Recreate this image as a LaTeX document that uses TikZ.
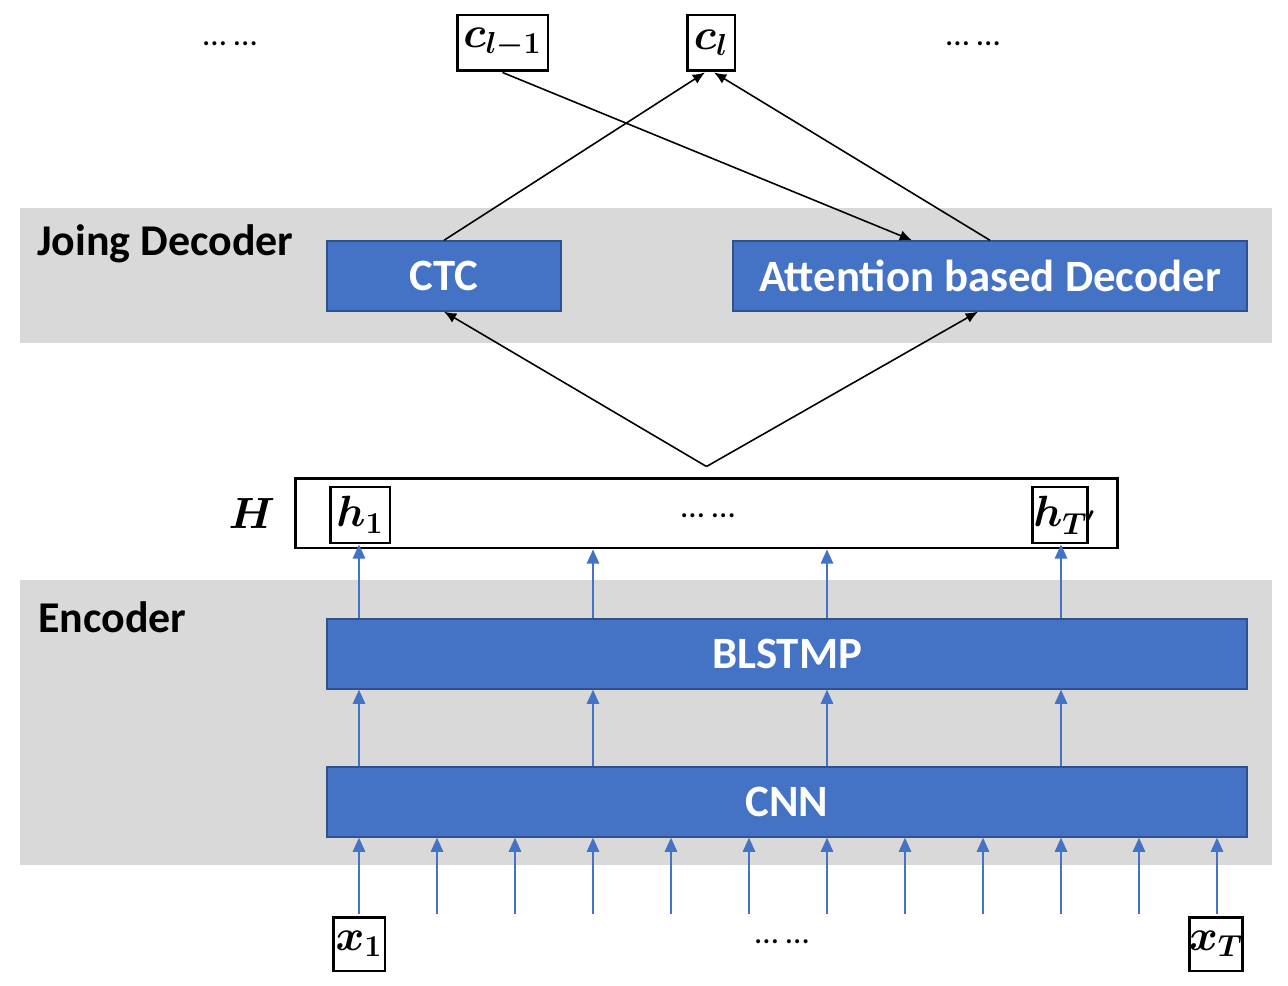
\documentclass[tikz,border=0pt]{standalone}
\usepackage{amsmath,bm}
\usepackage[no-math]{fontspec}
\setmainfont{Carlito}
\usetikzlibrary{positioning,arrows.meta}
\definecolor{bandgray}{HTML}{D9D9D9}
\definecolor{layerblue}{HTML}{4472C4}
\definecolor{layeredge}{HTML}{2F528F}

\begin{document}
\begin{tikzpicture}[x=0.02cm,y=-0.02cm,>={Latex[length=7pt,width=6pt]},
  band/.style={fill=bandgray,inner sep=0pt},
  layer/.style={draw=layeredge,fill=layerblue,line width=0.8pt,text=white,inner sep=0pt,
    minimum height=1.4cm,font=\bfseries\fontsize{25.5}{28}\selectfont},
  tok/.style={draw,line width=1.7pt,inner sep=0pt,font=\fontsize{26}{30}\selectfont},
  label/.style={anchor=west,font=\bfseries\fontsize{25}{28}\selectfont},
  dots/.style={font=\fontsize{19}{20}\selectfont},
  link/.style={->,line width=0.9pt},
  flow/.style={draw=layerblue,line width=1pt,-{Triangle[width=7pt,length=8pt]}}]
\useasboundingbox (0,0) rectangle (1288,986);

% shaded groups
\node[band,minimum width=25.04cm,minimum height=2.7cm] (decband) at (646,275.5) {};
\node[band,minimum width=25.04cm,minimum height=5.7cm] (encband) at (646,722.5) {};
\node[label] (declabel) at (31,244) {Joing Decoder};
\node[label] (enclabel) at (32,617) {Encoder};

% layers
\node[layer,minimum width=4.68cm] (ctc) at (444,276) {CTC};
\node[layer,minimum width=10.28cm] (att) at (990,276) {Attention based Decoder};
\node[layer,minimum width=18.4cm] (blstmp) at (787,654) {BLSTMP};
\node[layer,minimum width=18.4cm] (cnn) at (787,802) {CNN};

% encoder output
\node[draw,line width=1.7pt,minimum width=16.46cm,minimum height=1.4cm] (H) at (706.5,513) {};
\node[font=\fontsize{26}{30}\selectfont] (Hlabel) at (252,514) {$\boldsymbol{H}$};
\node[tok,minimum width=1.2cm,minimum height=1.12cm] (h1) at (360,515) {$\boldsymbol{h_1}$};
\node[tok,minimum width=1.1cm,minimum height=1.12cm] (hT) at (1059.5,515)
  {\makebox[1.05cm][l]{$\boldsymbol{h_{T'}}$}};
\node[dots] (hdots) at (708,516) {… …};

% outputs
\node[tok,minimum width=1.82cm,minimum height=1.12cm] (cl1) at (502.5,43) {$\boldsymbol{c_{l-1}}$};
\node[tok,minimum width=0.96cm,minimum height=1.12cm] (cl) at (711,43) {$\boldsymbol{c_l}$};
\node[dots] (cdotsl) at (230,44) {… …};
\node[dots] (cdotsr) at (973,44) {… …};

% inputs
\node[tok,minimum width=1.04cm,minimum height=1.08cm] (x1) at (359,944) {$\boldsymbol{x_1}$};
\node[tok,minimum width=1.0cm,minimum height=1.08cm] (xT) at (1216,944) {$\boldsymbol{x_T}$};
\node[dots] (xdots) at (782,942) {… …};

% input frames into CNN
\foreach \x [count=\i] in {359,437,...,1217}
  \coordinate (in\i) at (\x,914);
\foreach \i in {1,...,12}
  \draw[flow] (in\i) -- (in\i |- cnn.south);

% CNN -> BLSTMP -> H
\foreach \i in {1,4,7,10}
  \draw[flow] (in\i |- cnn.north) -- (in\i |- blstmp.south);
\draw[flow] (in1 |- blstmp.north) -- (in1 |- h1.south);
\draw[flow] (in4 |- blstmp.north) -- (in4 |- H.south);
\draw[flow] (in7 |- blstmp.north) -- (in7 |- H.south);
\draw[flow] (in10 |- blstmp.north) -- (in10 |- hT.south);

% decoder
\coordinate (hub) at ([yshift=0.2cm]H.north);
\draw[link] (hub) -- (ctc.south);
\draw[link] (hub) -- ([xshift=-0.24cm]att.south);
\draw[link] (ctc.north) -- ([xshift=-0.12cm]cl.south);
\draw[link] (att.north) -- ([xshift=0.06cm]cl.south);
\draw[link] (cl1.south) -- ([xshift=-1.56cm]att.north);
\end{tikzpicture}
\end{document}
